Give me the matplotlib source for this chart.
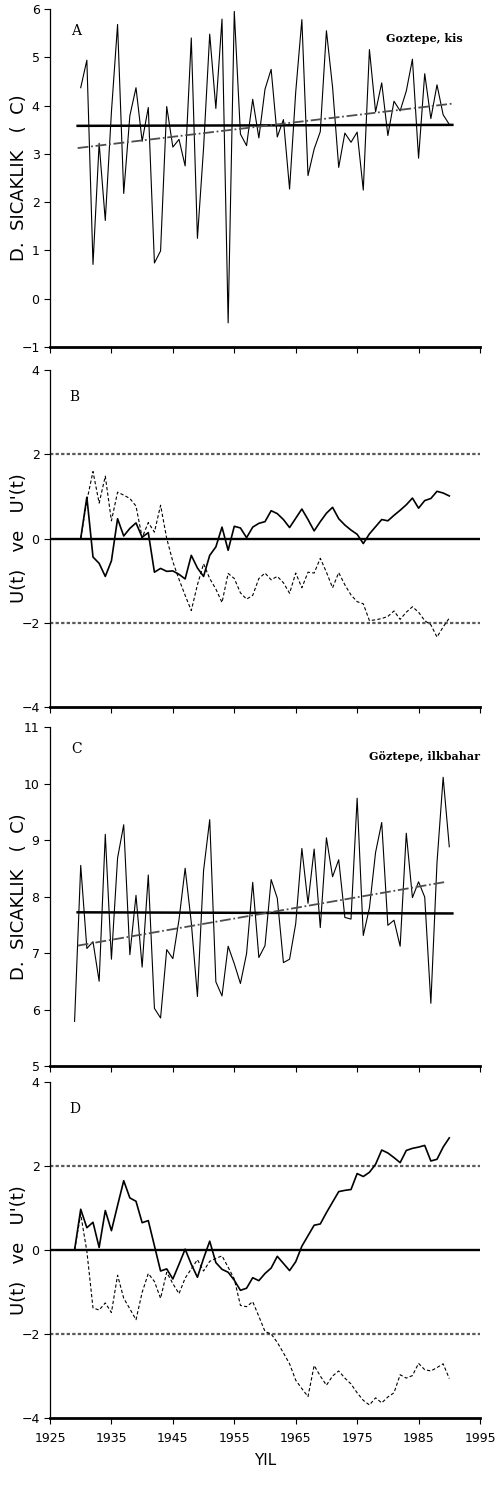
# Goztepe kis / ilkbahar sicakliklari ve Mann-Kendall dizileri (A-D)
import matplotlib
matplotlib.use('Agg')
import matplotlib.pyplot as plt

plt.rcParams['font.family'] = ['DejaVu Sans']

# --- A: kis sicakliklari ---
years_a = list(range(1930, 1991))
temp_a = [4.37, 4.94, 0.71, 3.22, 1.62, 3.87, 5.68, 2.18, 3.79, 4.37,
          3.26, 3.96, 0.74, 0.99, 3.98, 3.14, 3.30, 2.75, 5.40, 1.25,
          3.12, 5.48, 3.94, 5.79, -0.50, 5.95, 3.41, 3.17, 4.13, 3.33,
          4.34, 4.75, 3.35, 3.71, 2.27, 4.28, 5.78, 2.55, 3.10, 3.46,
          5.55, 4.38, 2.72, 3.43, 3.24, 3.45, 2.25, 5.16, 3.87, 4.47,
          3.38, 4.09, 3.89, 4.30, 4.96, 2.91, 4.66, 3.73, 4.43, 3.81,
          3.61]
mean_a_x = [1929.5, 1990.5]
mean_a_y = [3.58, 3.60]
trend_a_x = [1929.5, 1990.5]
trend_a_y = [3.12, 4.04]

# --- B: kis u(t), u'(t) ---
years_b = list(range(1930, 1991))
u_b = [0.0, 0.98, -0.44, -0.59, -0.90, -0.53, 0.47, 0.06, 0.24, 0.37,
       0.03, 0.14, -0.80, -0.71, -0.78, -0.77, -0.85, -0.96, -0.40, -0.70,
       -0.90, -0.40, -0.20, 0.27, -0.28, 0.29, 0.25, 0.02, 0.27, 0.36,
       0.40, 0.66, 0.59, 0.45, 0.26, 0.48, 0.70, 0.45, 0.18, 0.40,
       0.60, 0.74, 0.47, 0.32, 0.20, 0.10, -0.12, 0.11, 0.28, 0.45,
       0.42, 0.55, 0.67, 0.80, 0.96, 0.72, 0.90, 0.95, 1.12, 1.08,
       1.01]
ub_b = [0.0, 0.90, 1.59, 0.84, 1.48, 0.42, 1.10, 1.03, 0.95, 0.77,
        0.02, 0.38, 0.15, 0.79, 0.0, -0.55, -0.97, -1.35, -1.71, -1.10,
        -0.60, -0.95, -1.20, -1.52, -0.83, -0.95, -1.29, -1.44, -1.35, -0.95,
        -0.82, -0.98, -0.90, -1.05, -1.30, -0.82, -1.17, -0.80, -0.82, -0.47,
        -0.80, -1.17, -0.81, -1.10, -1.34, -1.50, -1.55, -1.95, -1.93, -1.90,
        -1.85, -1.72, -1.92, -1.75, -1.62, -1.75, -1.95, -2.05, -2.34, -2.10,
        -1.89]

# --- C: ilkbahar sicakliklari ---
years_c = list(range(1929, 1991))
temp_c = [5.79, 8.55, 7.08, 7.20, 6.50, 9.10, 6.89, 8.68, 9.27, 6.97,
          8.02, 6.75, 8.38, 6.02, 5.85, 7.06, 6.90, 7.59, 8.50, 7.54,
          6.23, 8.46, 9.36, 6.49, 6.24, 7.12, 6.81, 6.46, 6.99, 8.25,
          6.92, 7.13, 8.30, 7.97, 6.83, 6.89, 7.52, 8.85, 7.88, 8.84,
          7.45, 9.04, 8.35, 8.65, 7.63, 7.60, 9.74, 7.31, 7.80, 8.78,
          9.31, 7.49, 7.58, 7.12, 9.12, 7.98, 8.26, 7.99, 6.11, 8.60,
          10.11, 8.88]
mean_c_x = [1929.5, 1990.5]
mean_c_y = [7.72, 7.70]
trend_c_x = [1929.5, 1989.5]
trend_c_y = [7.13, 8.26]

# --- D: ilkbahar u(t), u'(t) ---
years_d = list(range(1929, 1991))
u_d = [0.0, 0.97, 0.53, 0.66, 0.06, 0.94, 0.46, 1.06, 1.65, 1.24,
       1.16, 0.65, 0.70, 0.10, -0.50, -0.45, -0.69, -0.34, 0.02, -0.34,
       -0.65, -0.20, 0.21, -0.30, -0.46, -0.53, -0.72, -0.96, -0.91, -0.66,
       -0.73, -0.56, -0.43, -0.15, -0.32, -0.49, -0.28, 0.09, 0.34, 0.59,
       0.62, 0.89, 1.14, 1.39, 1.42, 1.44, 1.82, 1.75, 1.85, 2.04,
       2.38, 2.31, 2.20, 2.08, 2.37, 2.42, 2.45, 2.49, 2.12, 2.16,
       2.45, 2.67]
ub_d = [0.0, 0.85, -0.03, -1.38, -1.43, -1.26, -1.49, -0.60, -1.15, -1.40,
        -1.66, -1.01, -0.56, -0.75, -1.15, -0.53, -0.80, -1.04, -0.67, -0.45,
        -0.23, -0.50, -0.27, -0.20, -0.14, -0.41, -0.69, -1.32, -1.35, -1.23,
        -1.58, -1.94, -2.00, -2.20, -2.45, -2.71, -3.10, -3.30, -3.49, -2.75,
        -3.00, -3.22, -3.00, -2.88, -3.05, -3.19, -3.40, -3.58, -3.69, -3.52,
        -3.64, -3.50, -3.40, -2.97, -3.05, -2.99, -2.70, -2.85, -2.88, -2.80,
        -2.71, -3.06]

crit = [-2, 0, 2]
year_ticks = list(range(1925, 2000, 10))

W, H = 497, 1486
fig = plt.figure(figsize=(W / 100, H / 100), dpi=100)


def make_axes(top, bottom):
    ax = fig.add_axes([50 / W, 1 - bottom / H, 430 / W, (bottom - top) / H])
    ax.spines['top'].set_visible(False)
    ax.spines['right'].set_visible(False)
    ax.spines['bottom'].set_linewidth(2.0)
    ax.spines['left'].set_linewidth(0.9)
    ax.set_xlim(1925, 1995)
    ax.set_xticks(year_ticks)
    ax.tick_params(axis='both', length=4, width=0.8, labelsize=9)
    ax.tick_params(axis='x', pad=6)
    return ax


def temp_panel(ax, years, vals, mx, my, tx, ty, ylim, letter, station):
    ax.plot(years, vals, color='black', lw=0.8)
    ax.plot(mx, my, color='black', lw=1.8)
    ax.plot(tx, ty, color='0.3', lw=1.3, ls=(0, (6, 1.5, 1, 1.5)))
    ax.set_ylim(*ylim)
    ax.set_yticks(range(ylim[0], ylim[1] + 1))
    ax.set_ylabel('D.  SICAKLIK   (  C)', fontsize=13, labelpad=6)
    ax.text(0.05, 0.955, letter, transform=ax.transAxes, fontsize=10,
            family='DejaVu Serif', va='top')
    ax.text(0.87, 0.93, station, transform=ax.transAxes, fontsize=8,
            family='DejaVu Serif', fontweight='bold', ha='center', va='top')


def mk_panel(ax, years, u, ub, letter):
    ax.axhline(0, color='black', lw=1.7)
    for c in crit:
        if c != 0:
            ax.axhline(c, color='0.35', lw=1.6, ls=(0, (1.5, 1)))
    ax.plot(years, u, color='black', lw=1.2)
    ax.plot(years, ub, color='black', lw=0.8, ls=(0, (3, 2)))
    ax.set_ylim(-4, 4)
    ax.set_yticks([-4, -2, 0, 2, 4])
    ax.set_ylabel("U(t)   ve   U'(t)", fontsize=13, labelpad=4)
    ax.text(0.045, 0.94, letter, transform=ax.transAxes, fontsize=10,
            family='DejaVu Serif', va='top')


ax_a = make_axes(9, 347)
temp_panel(ax_a, years_a, temp_a, mean_a_x, mean_a_y, trend_a_x, trend_a_y,
           (-1, 6), 'A', 'Goztepe, kis')
ax_a.set_xticklabels([])

ax_b = make_axes(370, 707)
mk_panel(ax_b, years_b, u_b, ub_b, 'B')
ax_b.set_xticklabels([])

ax_c = make_axes(727, 1066)
temp_panel(ax_c, years_c, temp_c, mean_c_x, mean_c_y, trend_c_x, trend_c_y,
           (5, 11), 'C', 'Göztepe, ilkbahar')
ax_c.set_xticklabels([])

ax_d = make_axes(1082, 1418)
mk_panel(ax_d, years_d, u_d, ub_d, 'D')
ax_d.set_xlabel('YIL', fontsize=11, labelpad=6)

for ax in (ax_a, ax_b, ax_c, ax_d):
    ax.yaxis.set_label_coords(-0.05, 0.5)

fig.savefig('out.png', dpi=100)
